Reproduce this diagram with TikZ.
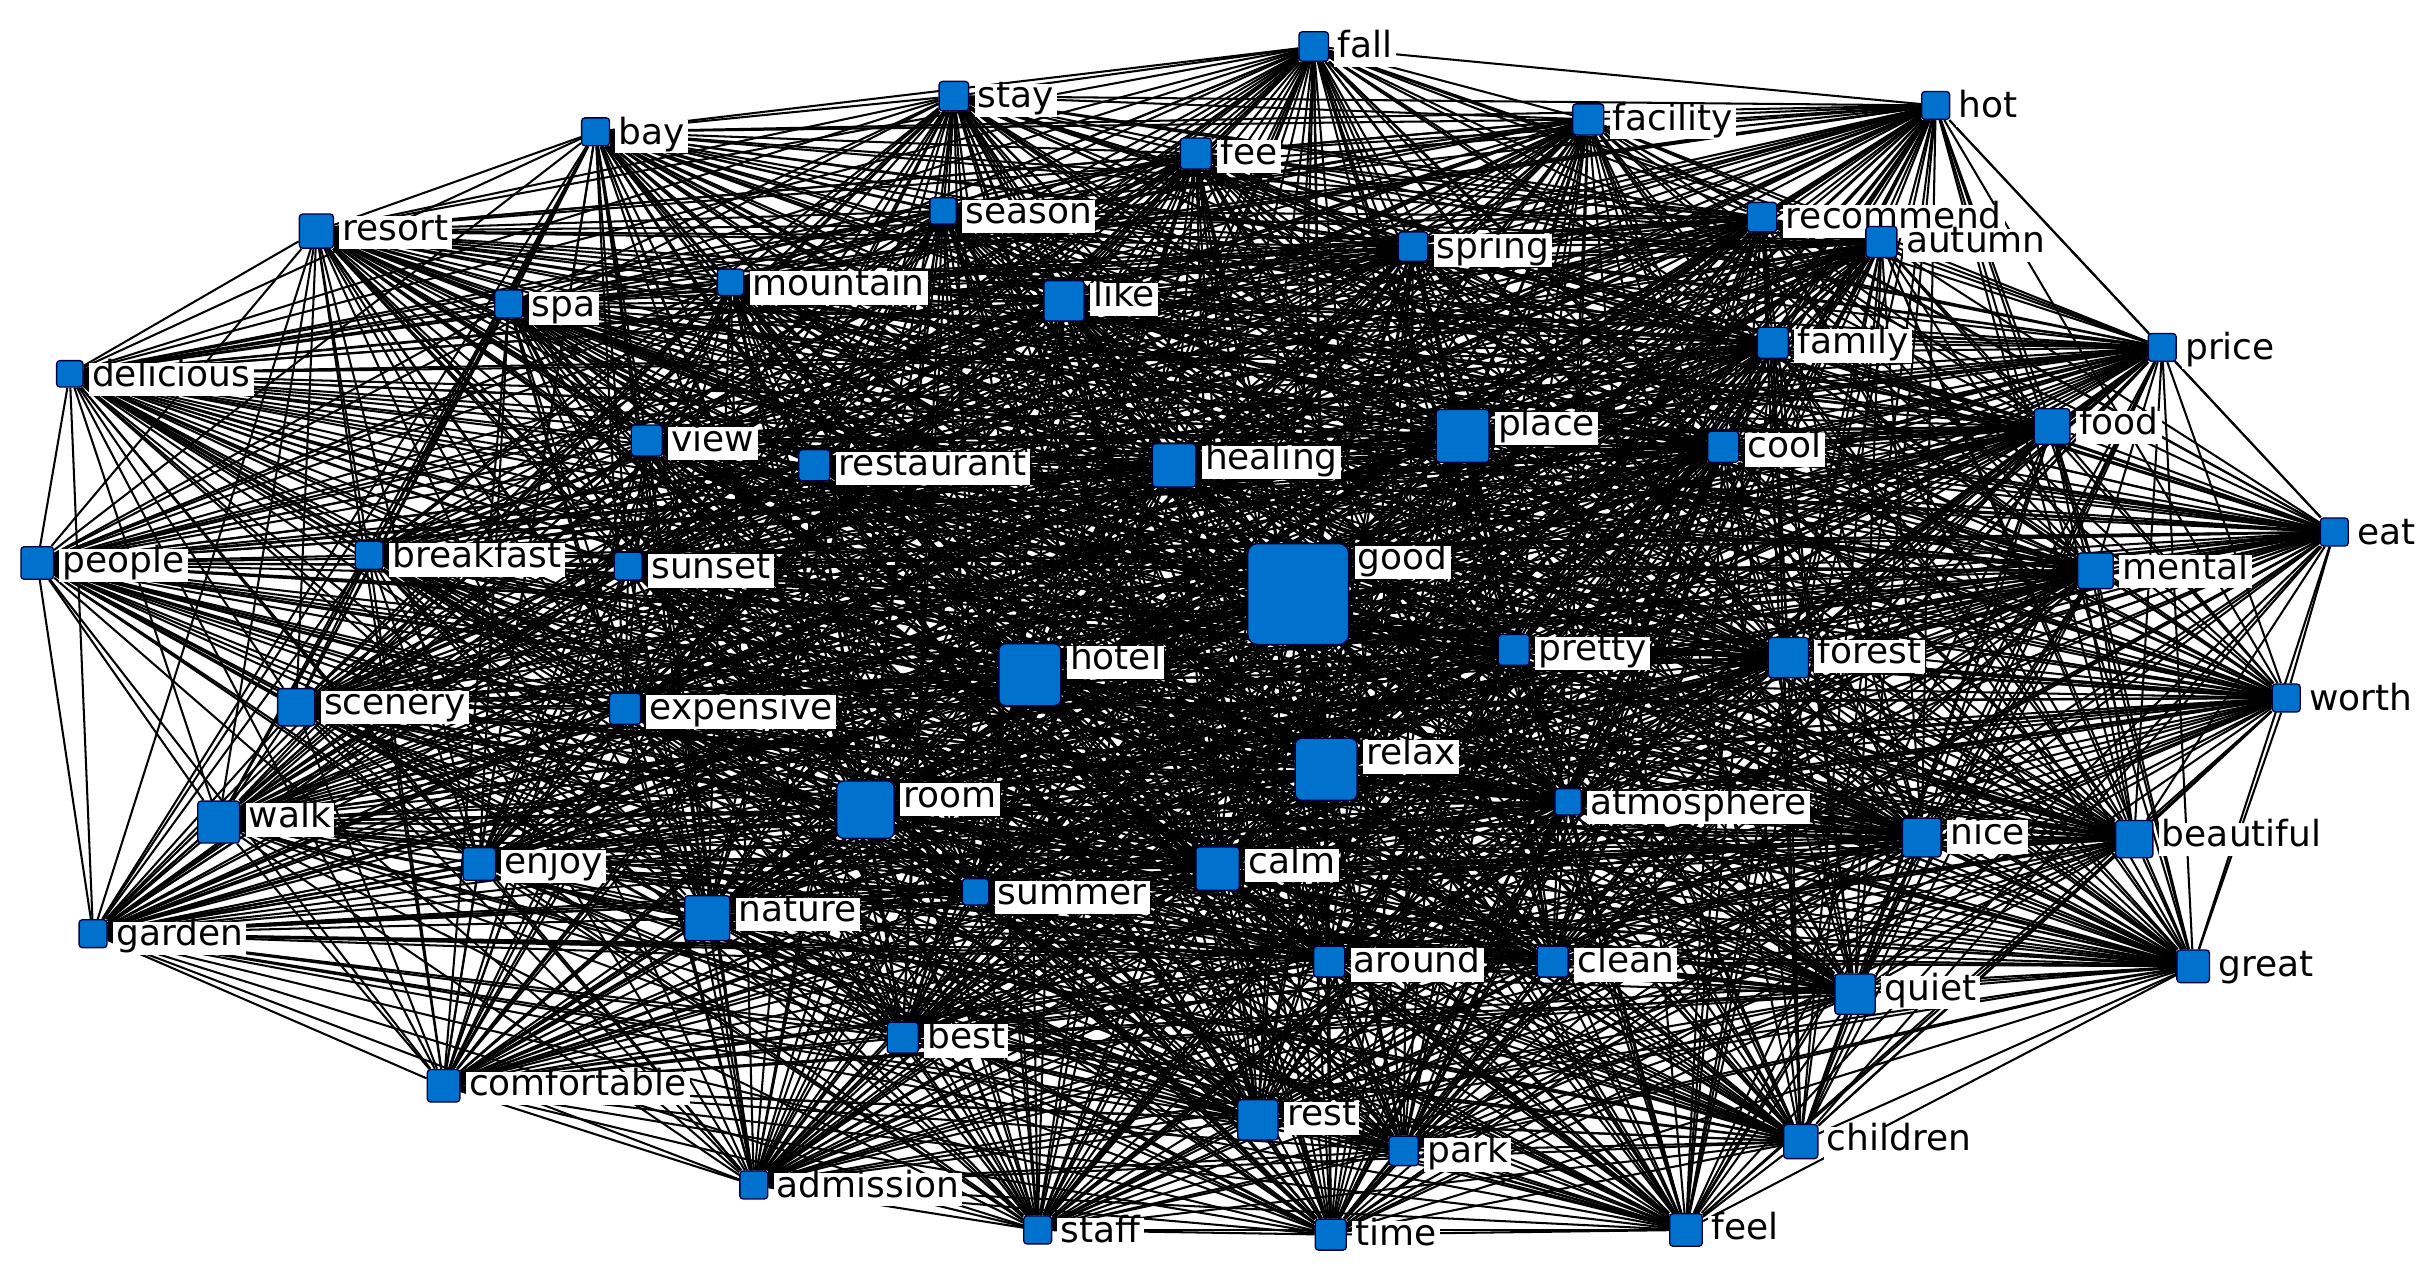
\documentclass[tikz,border=0pt]{standalone}
\usepackage{fontspec}
\setmainfont{DejaVu Sans}
\pgfdeclarelayer{background}
\pgfsetlayers{background,main}
\definecolor{wordblue}{RGB}{0,114,206}
\tikzset{
  word/.style={draw=black!75!blue, fill=wordblue, line width=0.5pt, rounded corners=1.2pt,
    inner sep=0pt, minimum size=#1*0.2mm},
  lbl/.style={fill=white, inner sep=1.2pt, anchor=north west, xshift=0.6mm, yshift=-0.3mm,
    font=\fontsize{13.2}{16}\selectfont, text height=0.76em, text depth=0.22em},
  link/.style={line width=0.75pt, black}
}
\def\allwords{fall,stay,hot,bay,facility,fee,season,recommend,resort,autumn,spring,mountain,like,spa,family,price,delicious,place,food,cool,view,restaurant,healing,eat,people,breakfast,sunset,good,mental,pretty,forest,hotel,worth,scenery,expensive,relax,room,atmosphere,walk,nice,beautiful,enjoy,calm,summer,nature,garden,great,around,clean,quiet,best,comfortable,rest,park,children,admission,staff,time,feel}
\begin{document}
\begin{tikzpicture}[x=0.2mm, y=-0.2mm]
  \useasboundingbox (0,0) rectangle (1568,827);

  % words
  \node[word=19, label={[lbl]north east:fall}] (fall) at (847,30) {};
  \node[word=19, label={[lbl]north east:stay}] (stay) at (615,62) {};
  \node[word=18, label={[lbl]north east:hot}] (hot) at (1248,68) {};
  \node[word=18, label={[lbl]north east:bay}] (bay) at (384,85) {};
  \node[word=20, label={[lbl]north east:facility}] (facility) at (1024,77) {};
  \node[word=20, label={[lbl]north east:fee}] (fee) at (771,99) {};
  \node[word=17, label={[lbl]north east:season}] (season) at (608,136) {};
  \node[word=19, label={[lbl]north east:recommend}] (recommend) at (1136,140) {};
  \node[word=22, label={[lbl]north east:resort}] (resort) at (204,149) {};
  \node[word=20, label={[lbl]north east:autumn}] (autumn) at (1213,156) {};
  \node[word=19, label={[lbl]north east:spring}] (spring) at (911,159) {};
  \node[word=17, label={[lbl]north east:mountain}] (mountain) at (471,182) {};
  \node[word=26, label={[lbl]north east:like}] (like) at (686,194) {};
  \node[word=18, label={[lbl]north east:spa}] (spa) at (328,196) {};
  \node[word=20, label={[lbl]north east:family}] (family) at (1143,221) {};
  \node[word=18, label={[lbl]north east:price}] (price) at (1394,224) {};
  \node[word=17, label={[lbl]north east:delicious}] (delicious) at (45,241) {};
  \node[word=34, label={[lbl]north east:place}] (place) at (943,281) {};
  \node[word=23, label={[lbl]north east:food}] (food) at (1323,275) {};
  \node[word=20, label={[lbl]north east:cool}] (cool) at (1111,288) {};
  \node[word=20, label={[lbl]north east:view}] (view) at (417,284) {};
  \node[word=20, label={[lbl]north east:restaurant}] (restaurant) at (525,300) {};
  \node[word=28, label={[lbl]north east:healing}] (healing) at (757,300) {};
  \node[word=18, label={[lbl]north east:eat}] (eat) at (1505,343) {};
  \node[word=21, label={[lbl]north east:people}] (people) at (24,363) {};
  \node[word=18, label={[lbl]north east:breakfast}] (breakfast) at (238,358) {};
  \node[word=18, label={[lbl]north east:sunset}] (sunset) at (405,365) {};
  \node[word=65, rounded corners=3.5pt, label={[lbl]north east:good}] (good) at (837,383) {};
  \node[word=23, label={[lbl]north east:mental}] (mental) at (1351,368) {};
  \node[word=20, label={[lbl]north east:pretty}] (pretty) at (976,419) {};
  \node[word=26, label={[lbl]north east:forest}] (forest) at (1153,424) {};
  \node[word=40, rounded corners=2.5pt, label={[lbl]north east:hotel}] (hotel) at (664,435) {};
  \node[word=18, label={[lbl]north east:worth}] (worth) at (1474,450) {};
  \node[word=24, label={[lbl]north east:scenery}] (scenery) at (191,456) {};
  \node[word=20, label={[lbl]north east:expensive}] (expensive) at (403,457) {};
  \node[word=40, rounded corners=2.5pt, label={[lbl]north east:relax}] (relax) at (855,496) {};
  \node[word=37, rounded corners=2.5pt, label={[lbl]north east:room}] (room) at (558,522) {};
  \node[word=17, label={[lbl]north east:atmosphere}] (atmosphere) at (1011,517) {};
  \node[word=27, label={[lbl]north east:walk}] (walk) at (141,530) {};
  \node[word=25, label={[lbl]north east:nice}] (nice) at (1239,540) {};
  \node[word=24, label={[lbl]north east:beautiful}] (beautiful) at (1376,541) {};
  \node[word=21, label={[lbl]north east:enjoy}] (enjoy) at (309,557) {};
  \node[word=28, label={[lbl]north east:calm}] (calm) at (785,560) {};
  \node[word=17, label={[lbl]north east:summer}] (summer) at (629,575) {};
  \node[word=29, label={[lbl]north east:nature}] (nature) at (456,592) {};
  \node[word=18, label={[lbl]north east:garden}] (garden) at (60,602) {};
  \node[word=21, label={[lbl]north east:great}] (great) at (1414,623) {};
  \node[word=20, label={[lbl]north east:around}] (around) at (857,620) {};
  \node[word=20, label={[lbl]north east:clean}] (clean) at (1001,620) {};
  \node[word=26, label={[lbl]north east:quiet}] (quiet) at (1196,641) {};
  \node[word=20, label={[lbl]north east:best}] (best) at (582,669) {};
  \node[word=21, label={[lbl]north east:comfortable}] (comfortable) at (286,700) {};
  \node[word=26, label={[lbl]north east:rest}] (rest) at (811,722) {};
  \node[word=19, label={[lbl]north east:park}] (park) at (905,742) {};
  \node[word=22, label={[lbl]north east:children}] (children) at (1161,736) {};
  \node[word=18, label={[lbl]north east:admission}] (admission) at (486,764) {};
  \node[word=18, label={[lbl]north east:staff}] (staff) at (669,793) {};
  \node[word=20, label={[lbl]north east:time}] (time) at (858,796) {};
  \node[word=21, label={[lbl]north east:feel}] (feel) at (1087,793) {};

  % co-occurrence links, every pair once
  \begin{pgfonlayer}{background}
    \foreach \a [count=\i] in \allwords {
      \foreach \b [count=\j] in \allwords {
        \ifnum\j>\i \draw[link] (\a) -- (\b); \fi
      }
    }
  \end{pgfonlayer}
\end{tikzpicture}
\end{document}
